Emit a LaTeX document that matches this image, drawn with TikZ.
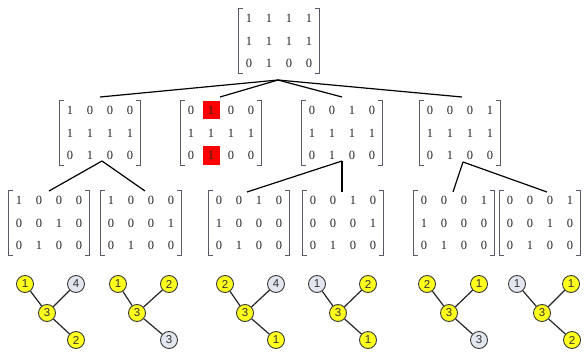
\documentclass[tikz,border=0pt]{standalone}
\usepackage{fontspec}
\setmainfont{Liberation Serif}
\newfontfamily\sansf{Liberation Sans}
\usetikzlibrary{matrix,calc}
\definecolor{brkc}{HTML}{5E586A}
\definecolor{ynode}{HTML}{FFFF1E}
\definecolor{gnode}{HTML}{E2E6EF}
\definecolor{nborder}{HTML}{3A3A3A}
\tikzset{
 cell/.style={anchor=center, minimum width=20pt, minimum height=20pt, inner sep=0pt, text height=8.5pt, text depth=0pt, font=\fontsize{12.5}{14}\selectfont, text=black!85},
 mat/.style={matrix of nodes, inner sep=0pt, row sep=2.5pt, column sep=0pt, nodes={cell}},
 redcell/.style={fill=red, minimum width=17pt, minimum height=18pt},
 brk/.style={draw=brkc, line width=1pt},
 conn/.style={draw=black, line width=1.2pt},
 tn/.style={circle, draw=nborder, line width=0.9pt, minimum size=17pt, inner sep=0pt, font=\sansf\fontsize{11.5}{11.5}\selectfont, text=black!80},
 yn/.style={tn, fill=ynode},
 gn/.style={tn, fill=gnode},
 te/.style={draw=black!85, line width=1.2pt},
}
\newcommand\mbrk[1]{%
 \draw[brk] ([xshift=4pt]#1.north west) -- (#1.north west) -- (#1.south west) -- ([xshift=4pt]#1.south west);
 \draw[brk] ([xshift=-4pt]#1.north east) -- (#1.north east) -- (#1.south east) -- ([xshift=-4pt]#1.south east);}
\begin{document}
\begin{tikzpicture}[x=1pt,y=-1pt]
\useasboundingbox[fill=white] (0,0) rectangle (585,358);
% level 1
\matrix[mat] (m1) at (279,41) {1 & 1 & 1 & 1\\ 1 & 1 & 1 & 1\\ 0 & 1 & 0 & 0\\};
% level 2
\matrix[mat] (m21) at (100,133) {1 & 0 & 0 & 0\\ 1 & 1 & 1 & 1\\ 0 & 1 & 0 & 0\\};
\matrix[mat] (m22) at (221,133) {0 & |[redcell]| 1 & 0 & 0\\ 1 & 1 & 1 & 1\\ 0 & |[redcell]| 1 & 0 & 0\\};
\matrix[mat] (m23) at (342,133) {0 & 0 & 1 & 0\\ 1 & 1 & 1 & 1\\ 0 & 1 & 0 & 0\\};
\matrix[mat] (m24) at (460,133) {0 & 0 & 0 & 1\\ 1 & 1 & 1 & 1\\ 0 & 1 & 0 & 0\\};
% level 3
\matrix[mat] (m31) at (49,223) {1 & 0 & 0 & 0\\ 0 & 0 & 1 & 0\\ 0 & 1 & 0 & 0\\};
\matrix[mat] (m32) at (141,223) {1 & 0 & 0 & 0\\ 0 & 0 & 0 & 1\\ 0 & 1 & 0 & 0\\};
\matrix[mat] (m33) at (249,223) {0 & 0 & 1 & 0\\ 1 & 0 & 0 & 0\\ 0 & 1 & 0 & 0\\};
\matrix[mat] (m34) at (343,223) {0 & 0 & 1 & 0\\ 0 & 0 & 0 & 1\\ 0 & 1 & 0 & 0\\};
\matrix[mat] (m35) at (454,223) {0 & 0 & 0 & 1\\ 1 & 0 & 0 & 0\\ 0 & 1 & 0 & 0\\};
\matrix[mat] (m36) at (540,223) {0 & 0 & 0 & 1\\ 0 & 0 & 1 & 0\\ 0 & 1 & 0 & 0\\};
\foreach \m in {m1,m21,m22,m23,m24,m31,m32,m33,m34,m35,m36}{\mbrk{\m}}
% connector points
\coordinate (a1) at ($(m1.center)+(-1,39)$);
\coordinate (t21) at ($(m21.center)+(0,-36)$);
\coordinate (t22) at ($(m22.center)+(-1,-36)$);
\coordinate (t23) at ($(m23.center)+(0,-36)$);
\coordinate (t24) at ($(m24.center)+(2,-36)$);
\coordinate (a21) at ($(m21.center)+(2,28)$);
\coordinate (a23) at ($(m23.center)+(0,28)$);
\coordinate (a24) at ($(m24.center)+(3,29)$);
\coordinate (t31) at ($(m31.center)+(0,-32)$);
\coordinate (t32) at ($(m32.center)+(4,-32)$);
\coordinate (t33) at ($(m33.center)+(-2,-31)$);
\coordinate (t34) at ($(m34.center)+(-1,-31)$);
\coordinate (t35) at ($(m35.center)+(-1,-31)$);
\coordinate (t36) at ($(m36.center)+(7,-31)$);
\draw[conn] (a1) -- (t21);
\draw[conn] (a1) -- (t22);
\draw[conn] (a1) -- (t23);
\draw[conn] (a1) -- (t24);
\draw[conn] (a21) -- (t31);
\draw[conn] (a21) -- (t32);
\draw[conn] (a23) -- (t33);
\draw[conn] (a23) -- (t34);
\draw[conn] (a24) -- (t35);
\draw[conn] (a24) -- (t36);
% trees
\node[yn] (p1l) at (25,284) {1};
\node[yn] (p1c) at (47,313) {3};
\node[gn] (p1r) at (76,284) {4};
\node[yn] (p1b) at (76,340) {2};
\node[yn] (p2l) at (118,284) {1};
\node[yn] (p2c) at (137,313) {3};
\node[yn] (p2r) at (169,284) {2};
\node[gn] (p2b) at (169,340) {3};
\node[yn] (p3l) at (225,284) {2};
\node[yn] (p3c) at (245,313) {3};
\node[gn] (p3r) at (276,284) {4};
\node[yn] (p3b) at (276,340) {1};
\node[gn] (p4l) at (317,284) {1};
\node[yn] (p4c) at (338,313) {3};
\node[yn] (p4r) at (368,284) {2};
\node[yn] (p4b) at (368,340) {1};
\node[yn] (p5l) at (427,284) {2};
\node[yn] (p5c) at (449,313) {3};
\node[yn] (p5r) at (479,284) {1};
\node[gn] (p5b) at (479,340) {3};
\node[gn] (p6l) at (517,284) {1};
\node[yn] (p6c) at (542,313) {3};
\node[yn] (p6r) at (571,284) {1};
\node[yn] (p6b) at (572,340) {2};
\foreach \i in {1,...,6}{
 \draw[te] (p\i l) -- (p\i c);
 \draw[te] (p\i r) -- (p\i c);
 \draw[te] (p\i c) -- (p\i b);
}
\end{tikzpicture}
\end{document}
